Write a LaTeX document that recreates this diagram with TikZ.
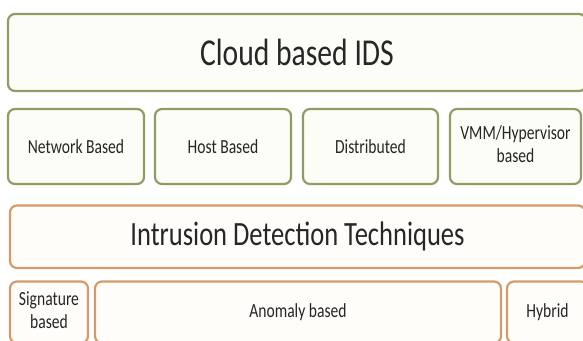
\documentclass[tikz,border=0pt]{standalone}
\usepackage{fontspec}
\setmainfont{Carlito}
\definecolor{gline}{HTML}{8E9E62}
\definecolor{gfill}{HTML}{FCFDF7}
\definecolor{oline}{HTML}{D49A68}
\definecolor{ofill}{HTML}{FFFDFA}
\definecolor{txt}{HTML}{262626}
\newcommand{\sq}[1]{\scalebox{0.78}[1]{#1}}
\newcommand{\sqtwo}[2]{\scalebox{0.78}[1]{\begin{tabular}{@{}c@{}}#1\\#2\end{tabular}}}
\tikzset{
  x=1pt, y=-1pt,
  gbox/.style={draw=gline, fill=gfill, line width=2.2pt, rounded corners=7pt, inner sep=0pt, text=txt},
  obox/.style={draw=oline, fill=ofill, line width=2.2pt, rounded corners=7pt, inner sep=0pt, text=txt},
  big/.style={font=\fontsize{38}{44}\selectfont},
  mid/.style={font=\fontsize{34}{40}\selectfont},
  small/.style={font=\fontsize{20}{23}\selectfont},
}
\begin{document}
\begin{tikzpicture}
\clip (0,0) rectangle (583,340);
\fill[white] (0,0) rectangle (583,340);
% top
\node[gbox, big, minimum width=578pt, minimum height=77pt] (cloud) at (297,52.5) {\sq{Cloud based IDS}};
% second row
\node[gbox, small, minimum width=136pt, minimum height=75pt] (net) at (76,146.5) {\sq{Network Based}};
\node[gbox, small, minimum width=136pt, minimum height=75pt] (host) at (223,146.5) {\sq{Host Based}};
\node[gbox, small, minimum width=135pt, minimum height=75pt] (dist) at (370.5,146.5) {\sq{Distributed}};
\node[gbox, small, minimum width=131pt, minimum height=75pt] (vmm) at (515.5,146.5) {\sqtwo{VMM/Hypervisor}{based}};
% techniques
\node[obox, mid, minimum width=575pt, minimum height=62.5pt] (idt) at (297.5,236.75) {\sq{Intrusion Detection Techniques}};
% bottom row
\node[obox, small, minimum width=78pt, minimum height=61.5pt] (sig) at (49,312.25) {\sqtwo{Signature}{based}};
\node[obox, small, minimum width=406pt, minimum height=61.5pt] (anom) at (298,312.25) {\sq{Anomaly based}};
\node[obox, small, minimum width=81pt, minimum height=61.5pt] (hyb) at (547.5,312.25) {\sq{Hybrid}};
\end{tikzpicture}
\end{document}
